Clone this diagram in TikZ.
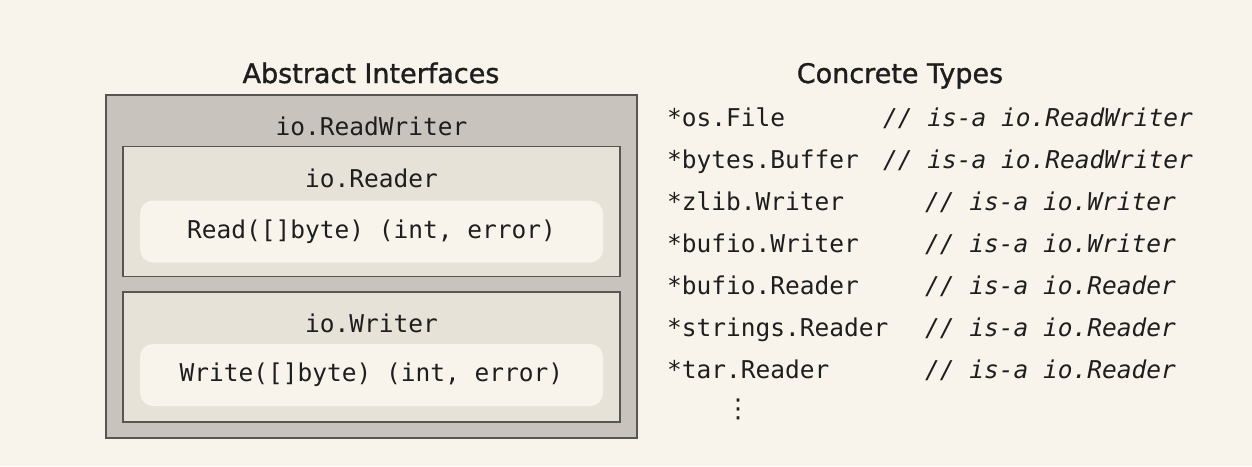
\documentclass[tikz,border=0pt]{standalone}
\usepackage{fontspec}
\setmonofont{DejaVu Sans Mono}
\newfontfamily\headfont[FakeBold=1.2]{DejaVu Sans}
\newfontfamily\dotsfont{DejaVu Sans}
\usepackage{tikz}
\usetikzlibrary{positioning}

\definecolor{paper}{RGB}{248,244,235}
\definecolor{shell}{RGB}{200,196,189}
\definecolor{panel}{RGB}{231,226,215}
\definecolor{pill}{RGB}{248,244,236}
\definecolor{edge}{RGB}{88,86,82}
\definecolor{ink}{RGB}{30,30,30}

\newcommand{\codefont}{\ttfamily\fontsize{24.5}{28}\selectfont}

\begin{document}
\begin{tikzpicture}[x=1pt, y=-1pt,
  outerbox/.style={rectangle, draw=edge, fill=shell, line width=1.6pt,
    minimum width=531pt, minimum height=343pt, inner sep=0pt},
  ifacebox/.style={rectangle, draw=edge, fill=panel, line width=1.3pt,
    minimum width=497pt, minimum height=130pt, inner sep=0pt},
  methpill/.style={rectangle, fill=pill, rounded corners=13pt,
    minimum width=463pt, minimum height=62pt, inner sep=0pt,
    text=ink, font=\codefont},
  ifname/.style={anchor=base, inner sep=0pt, text=ink, font=\codefont},
  heading/.style={anchor=base, inner sep=0pt, text=ink,
    font=\headfont\fontsize{27}{30}\selectfont},
  typename/.style={anchor=base west, inner sep=0pt, text=ink, font=\codefont},
  isacomment/.style={anchor=base west, inner sep=0pt, text=ink,
    font=\codefont\itshape},
]

  %% ── Canvas ──────────────────────────────────────────────────
  \fill[paper] (0,0) rectangle (1252,466);
  \useasboundingbox (0,0) rectangle (1252,466);

  %% ── Abstract interfaces ─────────────────────────────────────
  \node[heading] (abshead) at (371,83) {Abstract Interfaces};
  \node[outerbox] (rw) at (371.5,266.5) {};
  \node[ifname] (rwname) at (371.5,135) {io.ReadWriter};

  \node[ifacebox] (reader) at (371.5,211.5) {};
  \node[ifname] (rdname) at (371.5,187) {io.Reader};
  \node[methpill] (readm) at (371.5,231.5) {Read([]byte) (int, error)};

  \node[ifacebox] (writer) at (371.5,357) {};
  \node[ifname] (wrname) at (371.5,332) {io.Writer};
  \node[methpill] (writem) at (371.5,375) {Write([]byte) (int, error)};

  %% ── Concrete types ──────────────────────────────────────────
  \node[heading] (conhead) at (900,83) {Concrete Types};

  \foreach \i/\t/\c/\x in {
      0/os.File/ReadWriter/883,
      1/bytes.Buffer/ReadWriter/883,
      2/zlib.Writer/Writer/925,
      3/bufio.Writer/Writer/925,
      4/bufio.Reader/Reader/925,
      5/strings.Reader/Reader/925,
      6/tar.Reader/Reader/925} {
    \node[typename] (type\i) at (667,126+42*\i) {*\t};
    \node[isacomment] (isa\i) at (\x,126+42*\i) {// is-a io.\c};
  }
  \node[inner sep=0pt, text=ink, font=\dotsfont\fontsize{26}{28}\selectfont]
    (more) at (738,409) {⋮};

\end{tikzpicture}
\end{document}
